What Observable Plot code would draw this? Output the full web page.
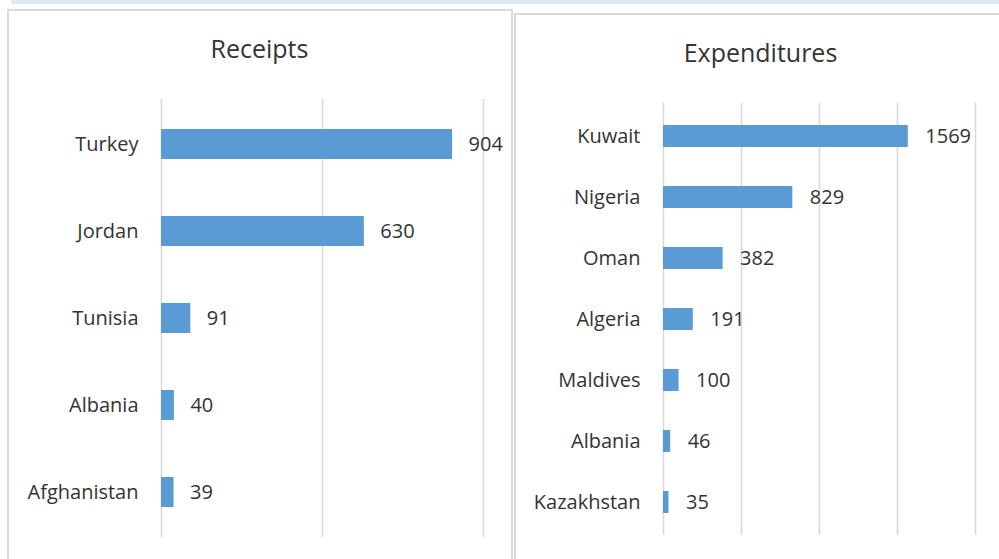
<!DOCTYPE html>
<html>
<head>
<meta charset="utf-8">
<script src="https://cdn.jsdelivr.net/npm/d3@7"></script>
<script src="https://cdn.jsdelivr.net/npm/@observablehq/plot@0.6"></script>
<style>
  html, body { margin: 0; padding: 0; background: #fff; width: 999px; height: 559px; overflow: hidden; }
  body { position: relative; font-family: "Open Sans", "Noto Sans", sans-serif; }
  .strip { position: absolute; left: 11px; top: 0; width: 988px; height: 4px; background: #dde9f5; }
  .panel { position: absolute; border: 2px solid #d9d9d9; background: #fff; box-sizing: border-box; }
  .title { position: absolute; font-size: 25px; color: #333; text-align: center; }
  .chart { position: absolute; }
</style>
</head>
<body>
<div class="strip"></div>
<div class="panel" style="left:7px; top:9px; width:506px; height:570px;"></div>
<div class="panel" style="left:514px; top:13px; width:500px; height:570px;"></div>
<div class="title" style="left:9px; top:31px; width:501px;">Receipts</div>
<div class="title" style="left:517px; top:35px; width:487px;">Expenditures</div>
<div class="chart" id="left" style="left:9px; top:11px;"></div>
<div class="chart" id="right" style="left:517px; top:15px;"></div>
<script>
const receiptCountries = ["Turkey", "Jordan", "Tunisia", "Albania", "Afghanistan"];
const receiptValues = [904, 630, 91, 40, 39];
const expenditureCountries = ["Kuwait", "Nigeria", "Oman", "Algeria", "Maldives", "Albania", "Kazakhstan"];
const expenditureValues = [1569, 829, 382, 191, 100, 46, 35];
const receiptTicks = [0, 500, 1000];
const expenditureTicks = [0, 500, 1000, 1500, 2000];

const barColor = "#5b9bd5";
const textColor = "#333333";
const gridColor = "#d9d9d9";

function makeChart({countries, values, ticks, width, height, marginLeft, marginRight, marginTop, marginBottom, padInner, dx}) {
  const data = countries.map((c, i) => ({country: c, value: values[i]}));
  return Plot.plot({
    width, height, marginLeft, marginRight, marginTop, marginBottom,
    style: {fontFamily: "'Open Sans', 'Noto Sans', sans-serif", fontSize: "20px", color: textColor, background: "transparent"},
    x: {domain: [ticks[0], ticks[ticks.length - 1]], axis: null},
    y: {domain: countries, paddingInner: padInner, paddingOuter: padInner / 2, label: null},
    marks: [
      Plot.gridX(ticks, {stroke: gridColor, strokeOpacity: 1, strokeWidth: 1.6}),
      Plot.barX(data, {x: "value", y: "country", fill: barColor}),
      Plot.text(data, {x: "value", y: "country", text: d => String(d.value), textAnchor: "start", dx, fill: textColor, fontSize: 20}),
      Plot.axisY({tickSize: 0, tickPadding: 23, fontSize: 20, fill: textColor, label: null})
    ]
  });
}

document.getElementById("left").appendChild(makeChart({
  countries: receiptCountries, values: receiptValues, ticks: receiptTicks,
  width: 501, height: 548, marginLeft: 152, marginRight: 27, marginTop: 88, marginBottom: 22,
  padInner: 0.65, dx: 16
}));
document.getElementById("right").appendChild(makeChart({
  countries: expenditureCountries, values: expenditureValues, ticks: expenditureTicks,
  width: 482, height: 544, marginLeft: 146, marginRight: 24, marginTop: 88, marginBottom: 24,
  padInner: 0.643, dx: 17
}));
</script>
</body>
</html>
